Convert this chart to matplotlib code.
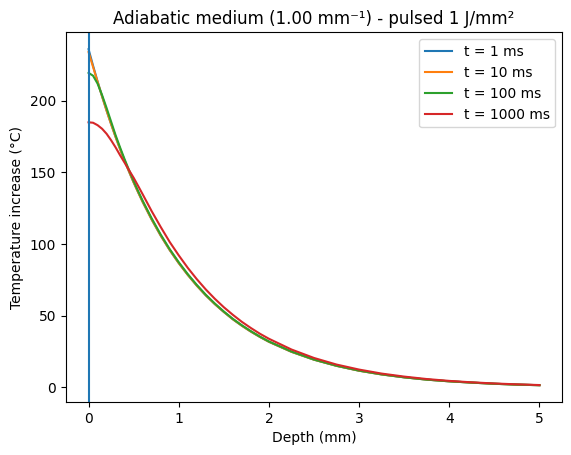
import matplotlib
matplotlib.use("Agg")
import matplotlib.pyplot as plt
import numpy as np

# depth samples (mm)
depth = [0, 0.05, 0.1, 0.15, 0.2, 0.25, 0.3, 0.35, 0.4, 0.45, 0.5, 0.55, 0.6,
         0.7, 0.8, 0.9, 1.0, 1.1, 1.2, 1.3, 1.4, 1.5, 1.6, 1.7, 1.8, 1.9, 2.0,
         2.25, 2.5, 2.75, 3.0, 3.25, 3.5, 3.75, 4.0, 4.25, 4.5, 4.75, 5.0]

# temperature increase (deg C) for each pulse time
t_1ms = [236, 224.5, 213.5, 203.1, 193.2, 183.8, 174.8, 166.3, 158.2, 150.5, 143.1, 136.2, 129.5,
         117.2, 106, 95.9, 86.8, 78.6, 71.1, 64.3, 58.2, 52.7, 47.6, 43.1, 39, 35.3, 31.9,
         24.9, 19.4, 15.1, 11.7, 9.1, 7.1, 5.5, 4.3, 3.4, 2.6, 2.0, 1.6]
t_10ms = [234, 223.6, 213.3, 203.1, 193.2, 183.8, 174.8, 166.3, 158.2, 150.5, 143.1, 136.2, 129.5,
          117.2, 106, 95.9, 86.8, 78.6, 71.1, 64.3, 58.2, 52.7, 47.6, 43.1, 39, 35.3, 31.9,
          24.9, 19.4, 15.1, 11.7, 9.1, 7.1, 5.5, 4.3, 3.4, 2.6, 2.0, 1.6]
t_100ms = [219.5, 217.5, 212, 204, 195, 185.5, 176, 167.4, 159.2, 151.5, 144, 137, 130.3,
           118, 106.7, 96.5, 87.4, 79.1, 71.6, 64.7, 58.6, 53, 47.9, 43.4, 39.3, 35.5, 32.1,
           25.1, 19.5, 15.2, 11.8, 9.2, 7.1, 5.5, 4.3, 3.4, 2.6, 2.0, 1.6]
t_1000ms = [185, 184.7, 183, 180.5, 177, 172.5, 167.5, 162, 156.8, 151.5, 146.3, 140.6, 134.8,
            123, 112, 101.5, 92.2, 83.5, 75.6, 68.4, 61.9, 56, 50.7, 45.8, 41.5, 37.5, 34,
            26.5, 20.6, 16, 12.5, 9.7, 7.6, 5.9, 4.6, 3.6, 2.8, 2.2, 1.7]

series = [t_1ms, t_10ms, t_100ms, t_1000ms]
labels = ["t = 1 ms", "t = 10 ms", "t = 100 ms", "t = 1000 ms"]

fig = plt.figure(figsize=(5.71, 4.55), dpi=100)
ax = fig.add_axes([66/571, 53/455, 496/571, 369.6/455])

for vals, lab in zip(series, labels):
    ax.plot(depth, vals, label=lab)
ax.axvline(0, color="C0")

ax.set_xlabel("Depth (mm)")
ax.set_ylabel("Temperature increase (°C)")
ax.set_title("Adiabatic medium (1.00 mm⁻¹) - pulsed 1 J/mm²")
ax.legend(loc="upper right")

fig.savefig("out.png", dpi=100)
